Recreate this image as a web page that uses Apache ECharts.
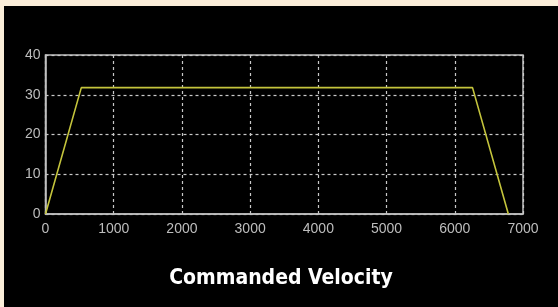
<!DOCTYPE html>
<html>
<head>
<meta charset="utf-8">
<style>
  html, body { margin: 0; padding: 0; background: #fbeed9; }
  #chart { position: absolute; left: 4px; top: 6px; width: 554px; height: 301px; }
</style>
<script src="https://cdn.jsdelivr.net/npm/echarts@6/dist/echarts.min.js"></script>
</head>
<body>
<div id="chart"></div>
<script>
  // velocity profile (time, velocity)
  var timePts = [0, 525, 6260, 6785];
  var velPts = [0, 31.8, 31.8, 0];
  var xTicks = [0, 1000, 2000, 3000, 4000, 5000, 6000, 7000];
  var yTicks = [0, 10, 20, 30, 40];
  var titleText = 'Commanded Velocity';

  var points = [];
  for (var i = 0; i < timePts.length; i++) {
    points.push([timePts[i], velPts[i]]);
  }

  var chart = echarts.init(document.getElementById('chart'));
  var gridLine = { show: true, lineStyle: { color: '#c8c8c8', type: [3, 3], width: 1.2 } };
  var labelStyle = {
    color: '#bdbdbd', fontFamily: 'Liberation Sans, Arial', fontSize: 14,
    formatter: function (v) { return String(v); }
  };

  chart.setOption({
    backgroundColor: '#000',
    animation: false,
    title: {
      text: titleText,
      left: 'center',
      top: 257,
      textStyle: {
        color: '#fff',
        fontFamily: 'DejaVu Sans Condensed, Liberation Sans Narrow, sans-serif',
        fontWeight: 'bold',
        fontSize: 21
      }
    },
    grid: {
      left: 41.5, right: 35, top: 49, bottom: 93,
      show: true,
      borderColor: '#c0c0c0',
      borderWidth: 1.5,
      backgroundColor: 'transparent'
    },
    xAxis: {
      type: 'value',
      min: xTicks[0],
      max: xTicks[xTicks.length - 1],
      interval: 1000,
      axisLine: { show: true, lineStyle: { color: '#c0c0c0', width: 1.5 } },
      axisTick: { show: false },
      axisLabel: Object.assign({ margin: 8 }, labelStyle),
      splitLine: gridLine
    },
    yAxis: {
      type: 'value',
      min: yTicks[0],
      max: yTicks[yTicks.length - 1],
      interval: 10,
      axisLine: { show: true, lineStyle: { color: '#c0c0c0', width: 1.5 } },
      axisTick: { show: false },
      axisLabel: Object.assign({ margin: 5 }, labelStyle),
      splitLine: gridLine
    },
    series: [{
      type: 'line',
      data: points,
      symbol: 'none',
      lineStyle: { color: '#c4c43c', width: 1.6 },
      z: 5
    }]
  });
</script>
</body>
</html>
